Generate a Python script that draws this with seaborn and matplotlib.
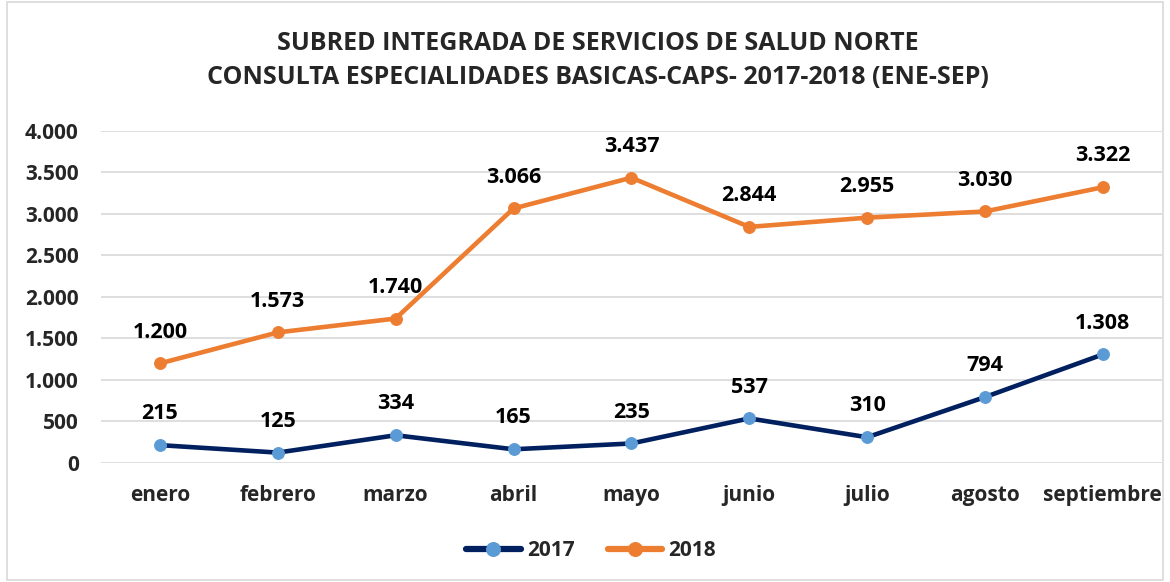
import seaborn as sns
import matplotlib.pyplot as plt
import pandas as pd

meses = ['enero', 'febrero', 'marzo', 'abril', 'mayo', 'junio', 'julio', 'agosto', 'septiembre']
v2017 = [215, 125, 334, 165, 235, 537, 310, 794, 1308]
v2018 = [1200, 1573, 1740, 3066, 3437, 2844, 2955, 3030, 3322]
yticks = [0, 500, 1000, 1500, 2000, 2500, 3000, 3500, 4000]

df = pd.DataFrame({
    'mes': meses * 2,
    'valor': v2017 + v2018,
    'anio': ['2017'] * len(meses) + ['2018'] * len(meses),
})

def miles(v):
    return f'{v:,}'.replace(',', '.')

sns.set_style('white')
plt.rcParams['font.family'] = ['Open Sans', 'DejaVu Sans']
plt.rcParams['font.weight'] = 'bold'

fig = plt.figure(figsize=(11.7, 5.82), dpi=100)
ax = fig.add_axes([0.0863, 0.2045, 0.9067, 0.5705])

colores = {'2017': '#002060', '2018': '#ED7D31'}
marcas = {'2017': '#5B9BD5', '2018': '#ED7D31'}
for anio in ['2017', '2018']:
    d = df[df['anio'] == anio]
    sns.lineplot(data=d, x='mes', y='valor', ax=ax, color=colores[anio], linewidth=3.3,
                 marker='o', markersize=8.5, markerfacecolor=marcas[anio],
                 markeredgecolor=marcas[anio], label=anio, sort=False)
    for i, v in enumerate(d['valor']):
        ax.annotate(miles(v), (i, v), xytext=(0, 15), textcoords='offset points',
                    ha='center', va='bottom', fontsize=15.5, fontweight='bold', color='black')

ax.set_xlim(-0.5, 8.5)
ax.set_ylim(0, 4000)
ax.set_yticks(yticks)
ax.set_yticklabels([miles(t) for t in yticks])
ax.yaxis.grid(True, color='#D9D9D9', linewidth=1.2)
ax.set_axisbelow(True)
for s in ax.spines.values():
    s.set_visible(False)
ax.tick_params(axis='both', labelsize=15, length=0)
ax.tick_params(axis='x', pad=16)
ax.tick_params(axis='y', pad=16)
for lab in ax.get_xticklabels() + ax.get_yticklabels():
    lab.set_fontweight('bold')
ax.set_xlabel('')
ax.set_ylabel('')

leg = ax.legend(loc='center', bbox_to_anchor=(0.462, -0.265), ncol=2, frameon=False,
                fontsize=15, handlelength=2.6, columnspacing=1.6, handletextpad=0.3)
for t in leg.get_texts():
    t.set_fontweight('bold')
for h in leg.get_lines():
    h.set_linewidth(4.5)
    h.set_markersize(10)

fig.text(0.511, 0.926, 'SUBRED INTEGRADA DE SERVICIOS DE SALUD NORTE', ha='center', va='center',
         fontsize=18, fontweight='bold')
fig.text(0.511, 0.866, 'CONSULTA ESPECIALIDADES BASICAS-CAPS- 2017-2018 (ENE-SEP)', ha='center',
         va='center', fontsize=18, fontweight='bold')

fig.patches.append(plt.Rectangle((0.006, 0.004), 0.988, 0.992, transform=fig.transFigure,
                                 fill=False, edgecolor='#D9D9D9', linewidth=1.2))

fig.savefig('out.png', dpi=100)
